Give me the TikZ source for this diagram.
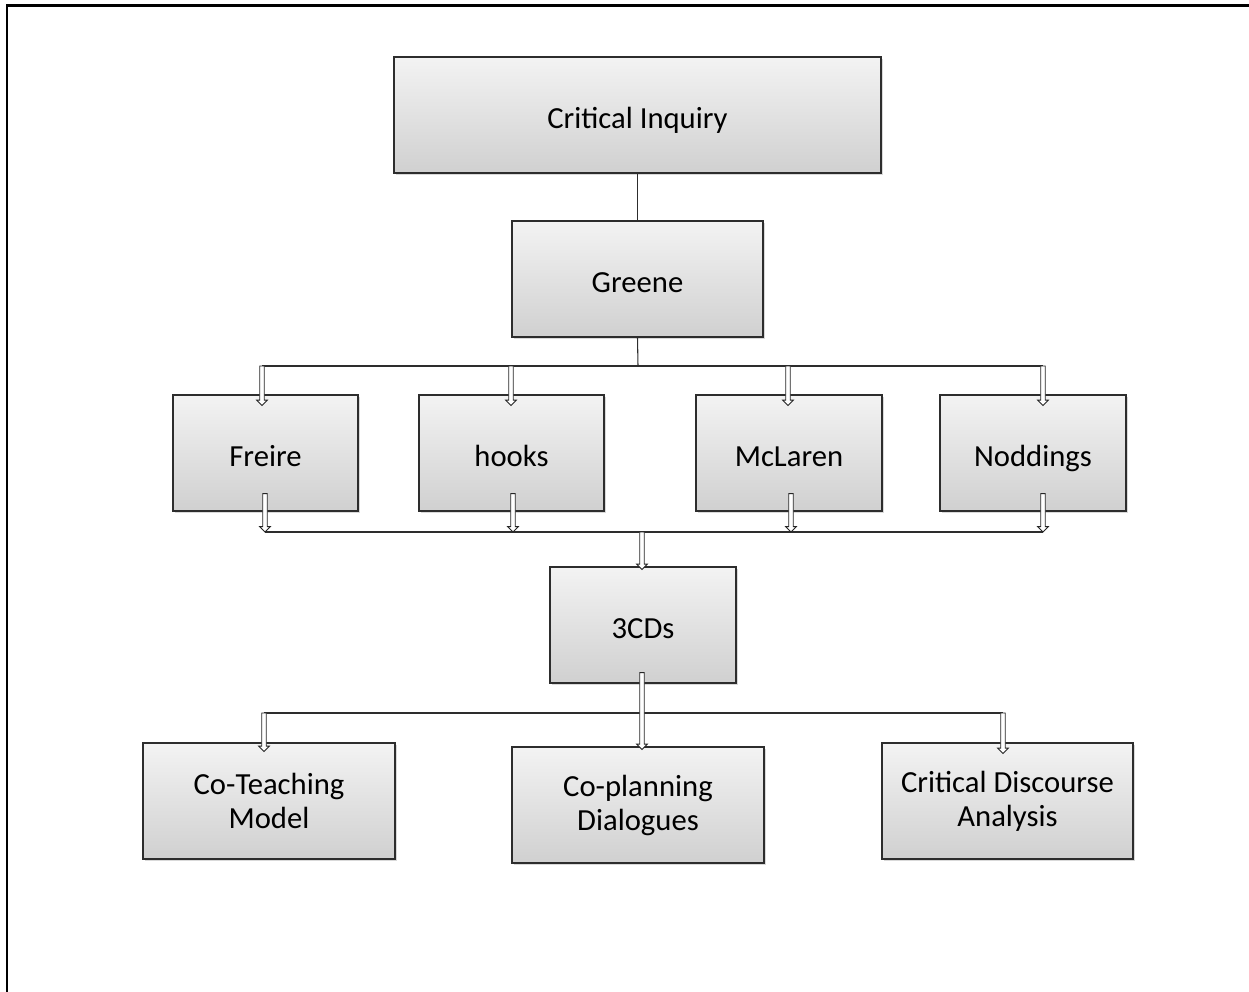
\documentclass[tikz,border=0pt]{standalone}
\usepackage{fontspec}
\setmainfont{Carlito}
\usetikzlibrary{arrows.meta,shadows,calc}
\definecolor{boxtop}{RGB}{243,243,243}
\definecolor{boxbot}{RGB}{208,208,208}
\definecolor{boxline}{RGB}{45,45,45}
\begin{document}
\begin{tikzpicture}[x=0.75pt,y=-0.75pt,
  box/.style={draw=boxline, line width=0.9pt, top color=boxtop, bottom color=boxbot,
    align=center, font=\fontsize{23}{25.5}\selectfont, inner sep=0pt,
    drop shadow={shadow xshift=1.2pt, shadow yshift=-1.5pt, opacity=0.3}},
  one/.style={text height=24pt, text depth=4.5pt},
  wh/.style 2 args={minimum width=#1*0.75pt, minimum height=#2*0.75pt},
  conn/.style={draw=boxline, line width=0.8pt},
  harrow/.style={draw=black!85, fill=white, line width=0.65pt, line join=miter,
    to path={let \p1=(\tikztostart), \p2=(\tikztotarget) in
      (\x1-1.7pt,\y1) -- (\x1-1.7pt,\y2+4pt) -- (\x1-4pt,\y2+4pt) -- (\x1,\y2)
      -- (\x1+4pt,\y2+4pt) -- (\x1+1.7pt,\y2+4pt) -- (\x1+1.7pt,\y1) -- cycle}}]
\useasboundingbox (0,0) rectangle (1249,992);
% frame
\draw[line width=2.2pt] (7,992) -- (7,5.5) -- (1249,5.5);
% nodes
\node[box, one, wh={487}{116}] (ci) at (637.5,115) {Critical Inquiry};
\node[box, one, wh={251}{116}] (gr) at (637.5,279) {Greene};
\node[box, one, wh={185}{116}] (fr) at (265.5,453) {Freire};
\node[box, one, wh={185}{116}] (hk) at (511.5,453) {hooks};
\node[box, one, wh={186}{116}] (mc) at (789,453) {McLaren};
\node[box, one, wh={186}{116}] (nd) at (1033,453) {Noddings};
\node[box, one, wh={186}{116}] (cd) at (643,625) {3CDs};
\node[box, wh={252}{116}] (ct) at (269,801) {Co-Teaching\\Model};
\node[box, wh={252}{116}] (cp) at (638,805) {Co-planning\\Dialogues};
\node[box, wh={251}{116}] (cda) at (1007.5,801) {Critical Discourse\\Analysis};
% coordinates
\coordinate (b1) at (638,366);
\coordinate (t1) at (262,366);
\coordinate (t2) at (511,366);
\coordinate (t3) at (788,366);
\coordinate (t4) at (1043,366);
\coordinate (s1) at (265,532);
\coordinate (s2) at (513,532);
\coordinate (s3) at (791,532);
\coordinate (s4) at (1043,532);
\coordinate (b2) at (642,532);
\coordinate (u1) at (264,713);
\coordinate (u3) at (1003,713);
% plain connectors
\draw[conn] (ci.south) -- (gr.north);
\draw[conn] (gr.south) -- (b1);
\draw[conn] (t1) -- (t4);
\draw[conn] (s1) -- (s4);
\draw[conn] (u1) -- (u3);
% hollow arrows
\draw[harrow] (t1) to ($(t1 |- fr.north)+(0,11)$);
\draw[harrow] (t2) to ($(t2 |- hk.north)+(0,11)$);
\draw[harrow] (t3) to ($(t3 |- mc.north)+(0,11)$);
\draw[harrow] (t4) to ($(t4 |- nd.north)+(0,11)$);
\draw[harrow] ($(s1 |- fr.south)+(0,-18)$) to (s1);
\draw[harrow] ($(s2 |- hk.south)+(0,-18)$) to (s2);
\draw[harrow] ($(s3 |- mc.south)+(0,-18)$) to (s3);
\draw[harrow] ($(s4 |- nd.south)+(0,-18)$) to (s4);
\draw[harrow] (b2) to ($(b2 |- cd.north)+(0,3)$);
\draw[harrow] ($(b2 |- cd.south)+(0,-11)$) to ($(b2 |- cp.north)+(0,3)$);
\draw[harrow] (u1) to ($(u1 |- ct.north)+(0,9)$);
\draw[harrow] (u3) to ($(u3 |- cda.north)+(0,11)$);
\end{tikzpicture}
\end{document}
